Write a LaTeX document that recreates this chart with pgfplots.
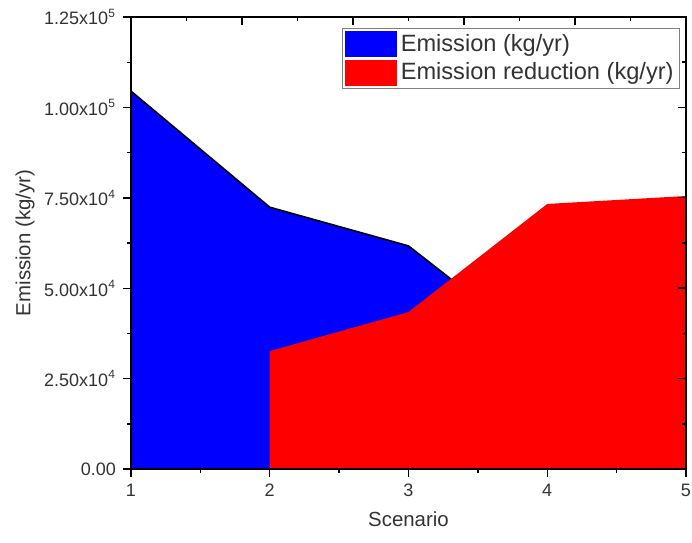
\documentclass[border=0pt]{standalone}
\usepackage{fontspec}
\setmainfont{Liberation Sans}
\usepackage{pgfplots}
\pgfplotsset{compat=1.18}
\begin{document}
\begin{tikzpicture}
\useasboundingbox (-65.5pt,-36.5pt) rectangle (280.5pt,234.5pt);
\begin{axis}[
  name=main,
  at={(0pt,0pt)}, anchor=south west,
  width=277.5pt, height=226pt, scale only axis,
  xmin=1, xmax=5, ymin=0, ymax=125000,
  axis on top=true,
  scaled ticks=false,
  axis line style={line width=0.7pt, black},
  xtick={1,2,3,4,5}, minor xtick={1.5,2.5,3.5,4.5},
  xticklabels={1,2,3,4,5},
  ytick={0,25000,50000,75000,100000,125000},
  minor ytick={12500,37500,62500,87500,112500},
  yticklabels={0.00,2.50x10\textsuperscript{4},5.00x10\textsuperscript{4},7.50x10\textsuperscript{4},1.00x10\textsuperscript{5},1.25x10\textsuperscript{5}},
  xtick pos=bottom, ytick pos=left, tick align=outside,
  major tick length=4pt, minor tick length=2pt,
  tick style={black, line width=0.7pt},
  ticklabel style={font=\fontsize{9}{10}\selectfont, text=black!80},
  xlabel={Scenario}, ylabel={Emission (kg/yr)},
  label style={font=\fontsize{10.2}{12}\selectfont, text=black!80},
  xlabel style={at={(axis description cs:0.5,-0.111)}, anchor=center},
  ylabel style={at={(axis description cs:-0.191,0.5)}, anchor=center},
  legend style={at={(1,1)}, anchor=north east, xshift=-3pt, yshift=-5.5pt,
    draw=black!50, font=\fontsize{11.8}{14}\selectfont, text=black!80,
    inner sep=1pt, row sep=0pt, cells={anchor=west}},
  legend image code/.code={\fill[#1, draw=none] (1.5pt,-6.5pt) rectangle (27.5pt,6.5pt);},
]
\addplot[fill=blue, draw=black, line width=0.8pt] coordinates {(1,104500) (2,72400) (3,61700) (4,31700) (5,29500)} \closedcycle;
\addlegendentry{Emission (kg/yr)}
\addplot[fill=red, draw=none] coordinates {(2,32600) (3,43400) (4,73300) (5,75500)} \closedcycle;
\addlegendentry{Emission reduction (kg/yr)}
\end{axis}
\begin{axis}[
  at={(0pt,0pt)}, anchor=south west,
  width=277.5pt, height=226pt, scale only axis,
  xmin=1, xmax=5, ymin=0, ymax=125000,
  axis lines=box,
  axis line style={line width=0.7pt, black},
  scaled ticks=false,
  xtick={1,1.8,2.6,3.4,4.2,5}, minor xtick={1.4,2.2,3,3.8,4.6},
  ytick={0,25000,50000,75000,100000,125000},
  minor ytick={12500,37500,62500,87500,112500},
  xticklabels={}, yticklabels={},
  xtick pos=top, ytick pos=right, tick align=inside,
  major tick length=4pt, minor tick length=2pt,
  tick style={black, line width=0.7pt},
]
\draw[line width=0.7pt, black] (rel axis cs:0,0) rectangle (rel axis cs:1,1);
\end{axis}
\end{tikzpicture}
\end{document}
